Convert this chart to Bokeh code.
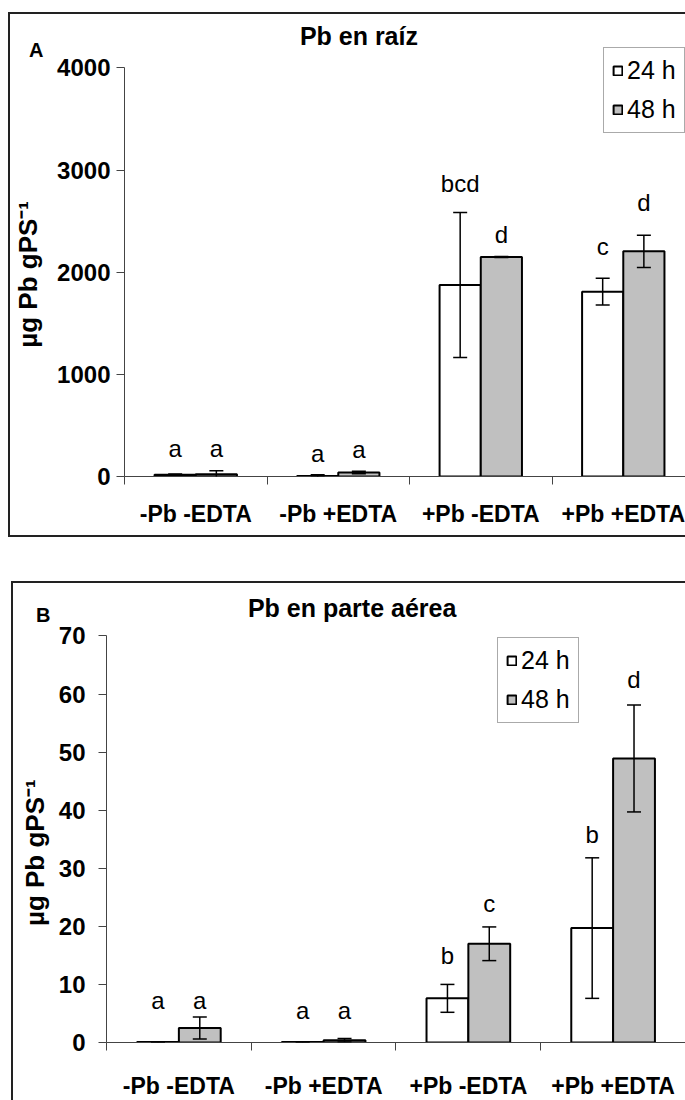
from bokeh.plotting import figure
from bokeh.models import (Range1d, FixedTicker, Whisker, TeeHead, ColumnDataSource,
                          Label, Legend, LegendItem, LinearAxis)
from bokeh.layouts import column, row
from bokeh.core.properties import value
from bokeh.embed import file_html
from bokeh.resources import INLINE

FONT = "Liberation Sans"
NBSP = "\u00a0"

categories = ["-Pb -EDTA", "-Pb +EDTA", "+Pb -EDTA", "+Pb +EDTA"]
series = ["24 h", "48 h"]
y_title = "µg Pb gPS⁻¹"

# Pb in roots (µg Pb per g dry weight)
raiz_24 = [18, 6, 1875, 1810]
raiz_24_err = [6, 12, 710, 130]
raiz_48 = [22, 40, 2150, 2205]
raiz_48_err = [35, 12, 5, 158]
raiz_letters_24 = ["a", "a", "bcd", "c"]
raiz_letters_48 = ["a", "a", "d", "d"]
raiz_letter_y_24 = [276, 230, 2864, 2252]
raiz_letter_y_48 = [276, 266, 2370, 2686]
raiz_ticks = [0, 1000, 2000, 3000, 4000]

# Pb in shoots (µg Pb per g dry weight)
parte_24 = [0.1, 0.1, 7.6, 19.7]
parte_24_err = [0.05, 0.05, 2.4, 12.1]
parte_48 = [2.5, 0.4, 17.0, 48.9]
parte_48_err = [1.9, 0.3, 2.9, 9.2]
parte_letters_24 = ["a", "a", "b", "b"]
parte_letters_48 = ["a", "a", "c", "d"]
parte_letter_y_24 = [7.25, 5.5, 15.0, 35.75]
parte_letter_y_48 = [7.25, 5.5, 24.0, 62.5]
parte_ticks = [0, 10, 20, 30, 40, 50, 60, 70]

BAR_W = 0.289
FILL_24 = "white"
FILL_48 = "#c0c0c0"
AXIS_COLOR = "#444444"


def panel(v24, e24, v48, e48, l24, l48, ly24, ly48, ticks, px_per_y,
          canvas_w, canvas_h, frame_left, frame_h, px_per_cat,
          title, title_x, title_y, tag, tag_y, tag_standoff,
          ylab_standoff, ylab_pad, legend_loc, label_standoff, tick_standoff, margin):
    n = len(categories)
    frame_w = canvas_w - frame_left
    p = figure(frame_width=frame_w, frame_height=frame_h,
               x_range=Range1d(0, frame_w / px_per_cat),
               y_range=Range1d(0, frame_h / px_per_y),
               min_border_left=frame_left, min_border_right=0,
               min_border_top=0, min_border_bottom=canvas_h - frame_h,
               output_backend="svg", toolbar_location=None,
               background_fill_color="white", border_fill_color="white",
               margin=margin, styles={"border": "2px solid #222222"})
    p.outline_line_color = None
    p.grid.visible = False

    centers = [i + 0.5 for i in range(n)]
    x24 = [c - BAR_W / 2 for c in centers]
    x48 = [c + BAR_W / 2 for c in centers]

    s24 = ColumnDataSource(dict(x=x24, top=v24, upper=[v + e for v, e in zip(v24, e24)],
                                lower=[v - e for v, e in zip(v24, e24)], lab=l24, ly=ly24))
    s48 = ColumnDataSource(dict(x=x48, top=v48, upper=[v + e for v, e in zip(v48, e48)],
                                lower=[v - e for v, e in zip(v48, e48)], lab=l48, ly=ly48))

    r24 = p.vbar(x="x", top="top", bottom=0, width=BAR_W, source=s24,
                 fill_color=FILL_24, line_color="black", line_width=2)
    r48 = p.vbar(x="x", top="top", bottom=0, width=BAR_W, source=s48,
                 fill_color=FILL_48, line_color="black", line_width=2)

    for src in (s24, s48):
        w = Whisker(base="x", upper="upper", lower="lower", source=src, dimension="height",
                    line_color="black", line_width=1.5, level="overlay",
                    upper_head=TeeHead(size=14, line_color="black", line_width=1.5),
                    lower_head=TeeHead(size=14, line_color="black", line_width=1.5))
        p.add_layout(w)
        p.text(x="x", y="ly", text="lab", source=src, text_align="center",
               text_baseline="middle", text_font=value(FONT), text_font_size="24px",
               text_color="black")

    # value axis; the title is padded at its end so that it sits centred on 0..max
    ya = p.yaxis[0]
    ya.ticker = FixedTicker(ticks=ticks, minor_ticks=[])
    ya.bounds = (0, ticks[-1])
    ya.major_tick_out = 8
    ya.major_tick_in = 0
    ya.major_label_standoff = tick_standoff
    ya.major_label_text_font = FONT
    ya.major_label_text_font_style = "bold"
    ya.major_label_text_font_size = "24px"
    ya.major_label_text_color = "black"
    ya.axis_line_color = AXIS_COLOR
    ya.major_tick_line_color = AXIS_COLOR
    ya.axis_label = y_title + NBSP * ylab_pad
    ya.axis_label_standoff = ylab_standoff
    ya.axis_label_text_font = FONT
    ya.axis_label_text_font_style = "bold"
    ya.axis_label_text_font_size = "26px"
    ya.axis_label_text_color = "black"

    # panel tag ("A" / "B") at the upper left
    tag_axis = LinearAxis(ticker=FixedTicker(ticks=[tag_y], minor_ticks=[]),
                          major_label_overrides={tag_y: tag},
                          axis_line_color=None, major_tick_line_color=None,
                          minor_tick_line_color=None, major_tick_out=0, major_tick_in=0,
                          major_label_standoff=tag_standoff,
                          major_label_text_font=FONT, major_label_text_font_style="bold",
                          major_label_text_font_size="20px", major_label_text_color="black")
    p.add_layout(tag_axis, "left")

    # category axis: labels centred, ticks between groups
    xa = p.xaxis[0]
    xa.ticker = FixedTicker(ticks=centers, minor_ticks=list(range(n + 1)))
    xa.major_label_overrides = {c: cat for c, cat in zip(centers, categories)}
    xa.major_tick_line_color = None
    xa.major_tick_out = 8
    xa.major_tick_in = 0
    xa.minor_tick_out = 8
    xa.minor_tick_in = 0
    xa.minor_tick_line_color = AXIS_COLOR
    xa.axis_line_color = AXIS_COLOR
    xa.major_label_standoff = label_standoff
    xa.major_label_text_font = FONT
    xa.major_label_text_font_style = "bold"
    xa.major_label_text_font_size = "23px"
    xa.major_label_text_color = "black"

    p.add_layout(Label(x=title_x, y=title_y, text=title,
                       text_align="center", text_baseline="middle", text_font=FONT,
                       text_font_style="bold", text_font_size="25px", text_color="black"))

    legend = Legend(items=[LegendItem(label=series[0], renderers=[r24]),
                           LegendItem(label=series[1], renderers=[r48])],
                    location=legend_loc, glyph_width=11, glyph_height=11,
                    label_standoff=4, spacing=10, padding=8, margin=0,
                    label_text_font=FONT, label_text_font_size="25px",
                    label_text_color="black", border_line_color="#555555",
                    border_line_width=1, background_fill_color="white",
                    background_fill_alpha=1)
    p.add_layout(legend)
    return p


# top chart: 0.10125 px per unit, 141.5 px per group
top = panel(raiz_24, raiz_24_err, raiz_48, raiz_48_err,
            raiz_letters_24, raiz_letters_48, raiz_letter_y_24, raiz_letter_y_48,
            raiz_ticks, 0.10125,
            canvas_w=675, canvas_h=521, frame_left=113, frame_h=458, px_per_cat=141.5,
            title="Pb en raíz", title_x=1.645, title_y=4315,
            tag="A", tag_y=4178, tag_standoff=-33,
            ylab_standoff=11, ylab_pad=8, legend_loc=(479, 343),
            label_standoff=16, tick_standoff=6, margin=(12, 0, 0, 8))

# bottom chart: 5.757 px per unit, 143.75 px per group
bottom = panel(parte_24, parte_24_err, parte_48, parte_48_err,
               parte_letters_24, parte_letters_48, parte_letter_y_24, parte_letter_y_48,
               parte_ticks, 5.757,
               canvas_w=672, canvas_h=517, frame_left=93, frame_h=455, px_per_cat=143.75,
               title="Pb en parte aérea", title_x=1.697, title_y=74.9,
               tag="B", tag_y=73.6, tag_standoff=-34,
               ylab_standoff=6, ylab_pad=11, legend_loc=(391, 319),
               label_standoff=22, tick_standoff=13, margin=(44, 0, 0, 11))

layout = column(row(top), row(bottom), spacing=0)
open("out.html", "w").write(file_html(layout, INLINE))
